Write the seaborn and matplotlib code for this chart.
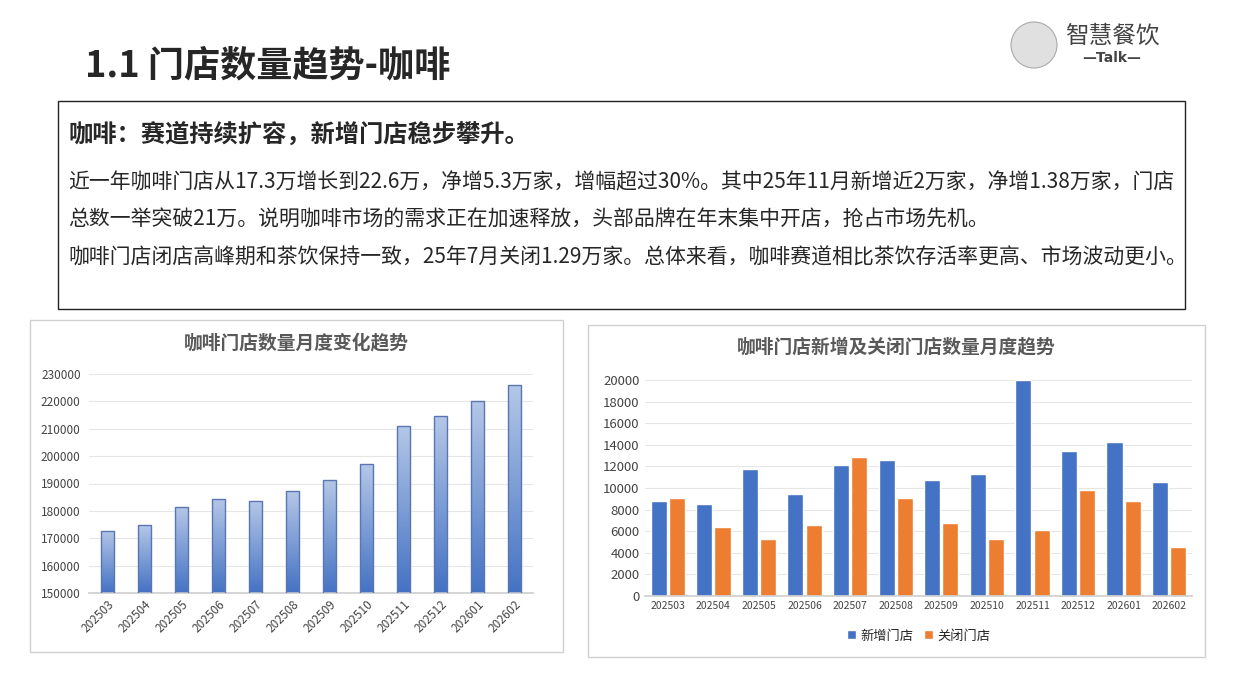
import numpy as np
import pandas as pd
import matplotlib
matplotlib.use("Agg")
import matplotlib.pyplot as plt
import seaborn as sns
from matplotlib.patches import Rectangle, Ellipse

sns.set_theme(style="white")
plt.rcParams['font.family'] = ['Noto Sans CJK SC', 'DejaVu Sans']

# data
months = ['202503', '202504', '202505', '202506', '202507', '202508',
          '202509', '202510', '202511', '202512', '202601', '202602']
total_stores = [172800, 174700, 181300, 184200, 183500, 187100,
                191200, 197100, 210900, 214600, 220100, 225900]
new_stores = [8800, 8500, 11800, 9400, 12100, 12600, 10700, 11300, 20000, 13400, 14300, 10600]
closed_stores = [9100, 6400, 5300, 6600, 12900, 9100, 6800, 5300, 6100, 9800, 8800, 4500]

W, H = 1240, 697
fig = plt.figure(figsize=(W / 100, H / 100), dpi=100)


def fx(x):
    return x / W


def fy(y):
    return 1 - y / H


def px_axes(x0, y0, x1, y1):
    return fig.add_axes([fx(x0), fy(y1), fx(x1) - fx(x0), (y1 - y0) / H])


# title and logo
fig.text(fx(85), fy(66), '1.1 门店数量趋势-咖啡', fontsize=26, fontweight='heavy', va='center')
fig.text(fx(1112), fy(36), '智慧餐饮', fontsize=17, color='#444444', va='center', ha='center')
fig.text(fx(1112), fy(58), '—Talk—', fontsize=10, fontweight='bold', color='#444444',
         va='center', ha='center', family=['DejaVu Sans'])
fig.patches.append(Ellipse((fx(1034), fy(45)), fx(46), 46 / H, transform=fig.transFigure,
                           facecolor='#e0e0e0', edgecolor='#aaaaaa', lw=0.8))

# text box
fig.patches.append(Rectangle((fx(58), fy(309)), fx(1185) - fx(58), (309 - 101) / H,
                             transform=fig.transFigure, fill=False, edgecolor='#222222', lw=1))
fig.text(fx(68), fy(135), '咖啡：赛道持续扩容，新增门店稳步攀升。', fontsize=17.5, fontweight='bold', va='center')
lines = ['近一年咖啡门店从17.3万增长到22.6万，净增5.3万家，增幅超过30%。其中25年11月新增近2万家，净增1.38万家，门店',
         '总数一举突破21万。说明咖啡市场的需求正在加速释放，头部品牌在年末集中开店，抢占市场先机。',
         '咖啡门店闭店高峰期和茶饮保持一致，25年7月关闭1.29万家。总体来看，咖啡赛道相比茶饮存活率更高、市场波动更小。']
for i, ln in enumerate(lines):
    fig.text(fx(68), fy(182 + 38 * i), ln, fontsize=15, va='center')

# panel borders
for x0, y0, x1, y1 in [(30, 320, 563, 652), (588, 325, 1205, 657)]:
    fig.patches.append(Rectangle((fx(x0), fy(y1)), fx(x1) - fx(x0), (y1 - y0) / H,
                                 transform=fig.transFigure, fill=False, edgecolor='#d0d0d0', lw=1))

# left chart
ax1 = px_axes(89, 374, 533, 593)
df1 = pd.DataFrame({'month': months, 'total': total_stores})
sns.barplot(data=df1, x='month', y='total', ax=ax1, width=0.33, color='#4472c4', saturation=1)
grad = np.linspace(0, 1, 256).reshape(-1, 1)
cmap = matplotlib.colors.LinearSegmentedColormap.from_list('g', ['#4472c4', '#b4c7e7'])
for p in ax1.patches:
    x, w, h = p.get_x(), p.get_width(), p.get_height()
    im = ax1.imshow(grad, cmap=cmap, aspect='auto', origin='lower',
                    extent=[x, x + w, 150000, h], zorder=2)
    im.set_clip_path(p)
    ax1.add_patch(Rectangle((x, 150000), w, h - 150000, fill=False,
                            edgecolor='#5a76b0', lw=1, zorder=3))
ax1.set_xlim(-0.5, 11.5)
ax1.set_ylim(150000, 230000)
ax1.set_yticks(range(150000, 230001, 10000))
ax1.grid(axis='y', color='#e6e6e6', lw=0.8)
ax1.set_axisbelow(True)
for s in ['top', 'right', 'left']:
    ax1.spines[s].set_visible(False)
ax1.spines['bottom'].set_color('#d0d0d0')
ax1.tick_params(axis='y', labelsize=8.5, colors='#444444', length=0, pad=6)
ax1.tick_params(axis='x', labelsize=8.5, colors='#444444', length=0, labelrotation=45)
for t in ax1.get_xticklabels():
    t.set_ha('right')
    t.set_rotation_mode('anchor')
ax1.set_xlabel('')
ax1.set_ylabel('')
fig.text(fx(296), fy(343), '咖啡门店数量月度变化趋势', fontsize=13.5, fontweight='bold',
         color='#595959', ha='center', va='center')

# right chart
ax2 = px_axes(645, 380, 1192, 596)
df2 = pd.DataFrame({'month': months * 2,
                    'count': new_stores + closed_stores,
                    'kind': ['新增门店'] * 12 + ['关闭门店'] * 12})
sns.barplot(data=df2, x='month', y='count', hue='kind', ax=ax2, width=0.8,
            palette=['#4472c4', '#ed7d31'], saturation=1, gap=0.12)
ax2.set_ylim(0, 20000)
ax2.set_yticks(range(0, 20001, 2000))
ax2.set_xlim(-0.5, 11.5)
ax2.grid(axis='y', color='#e6e6e6', lw=0.8)
ax2.set_axisbelow(True)
for s in ['top', 'right', 'left']:
    ax2.spines[s].set_visible(False)
ax2.spines['bottom'].set_color('#d0d0d0')
ax2.tick_params(axis='y', labelsize=9.5, colors='#444444', length=0, pad=4)
ax2.tick_params(axis='x', labelsize=7.5, colors='#444444', length=0)
ax2.set_xlabel('')
ax2.set_ylabel('')
ax2.legend(loc='upper center', bbox_to_anchor=(0.5, -0.1), ncol=2, frameon=False,
           fontsize=9.5, handlelength=0.7, handleheight=0.7, columnspacing=0.8, handletextpad=0.3)
fig.text(fx(896), fy(347), '咖啡门店新增及关闭门店数量月度趋势', fontsize=13.5, fontweight='bold',
         color='#595959', ha='center', va='center')

fig.savefig('out.png', dpi=100)
